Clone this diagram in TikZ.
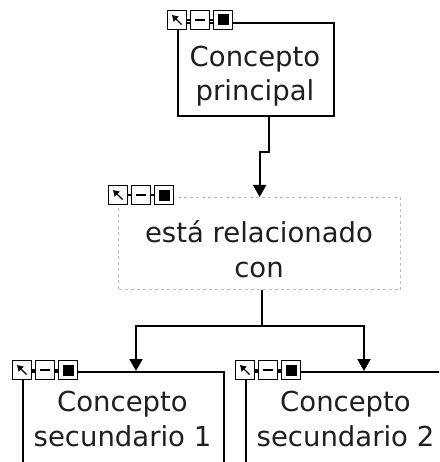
\documentclass[tikz,border=0pt]{standalone}
\usepackage{fontspec}
\setmainfont{DejaVu Sans}
\usetikzlibrary{arrows.meta}
\newcommand\iconrow[3]{%
  \node[icon] (#1a) at (#2,#3) {};
  \node[icon] (#1b) at ([xshift=23pt]#1a.center) {};
  \node[icon] (#1c) at ([xshift=23pt]#1b.center) {};
  \draw[iconline] (#1a.east) -- (#1b.west);
  \draw[iconline] (#1b.east) -- (#1c.west);
  \draw[line width=1.4pt,-{Triangle[width=7pt,length=6pt]}] ([shift={(4.5,4.5)}]#1a.center) -- ([shift={(-5,-5)}]#1a.center);
  \draw[line width=1.8pt] ([xshift=-5pt]#1b.center) -- ([xshift=5pt]#1b.center);
  \fill ([shift={(-5.5,-5.5)}]#1c.center) rectangle ([shift={(5.5,5.5)}]#1c.center);
}
\begin{document}
\begin{tikzpicture}[x=1pt,y=-1pt,
  box/.style={draw=black,line width=2pt,fill=white,inner sep=0pt,anchor=north west},
  dbox/.style={draw=black!28,dash pattern=on 3pt off 3pt,line width=1.3pt,fill=white,inner sep=0pt,anchor=north west},
  lbl/.style={font=\fontsize{27.5}{34.5}\selectfont,align=center,inner sep=0pt,text=black!88,anchor=base},
  icon/.style={draw=black,line width=1.6pt,fill=white,minimum size=19pt,inner sep=0pt},
  iconline/.style={draw=black,line width=1.4pt},
  conn/.style={draw=black,line width=2pt,-{Triangle[width=13pt,length=12pt]}},
]
\useasboundingbox (0,0) rectangle (439,462);
\clip (0,0) rectangle (439,462);
% boxes
\node[box,minimum width=156pt,minimum height=93pt] (top) at (177,22) {};
\node[dbox,minimum width=282pt,minimum height=92pt] (mid) at (118,197) {};
\node[box,minimum width=201pt,minimum height=120pt] (c1) at (22,371) {};
\node[box,minimum width=201pt,minimum height=120pt] (c2) at (245,371) {};
% texts (base anchor = last line)
\node[lbl] (ttop) at (255,101) {Concepto\\principal};
\node[lbl] (tmid) at (259,277) {está relacionado\\con};
\node[lbl] (tc1) at (122.5,446) {Concepto\\secundario 1};
\node[lbl] (tc2) at (345.5,446) {Concepto\\secundario 2};
% icons
\iconrow{it}{177}{20}
\iconrow{im}{118}{195}
\iconrow{ia}{22}{370}
\iconrow{ib}{245}{370}
% connectors
\draw[conn] ([xshift=13pt]top.south) -- ++(0,35) -| (mid.north);
\draw[conn] ([xshift=2pt]mid.south) -- ++(0,36) -| ([xshift=12.5pt]c1.north);
\draw[conn] ([xshift=2pt]mid.south) -- ++(0,36) -| ([xshift=17.5pt]c2.north);
\end{tikzpicture}
\end{document}
